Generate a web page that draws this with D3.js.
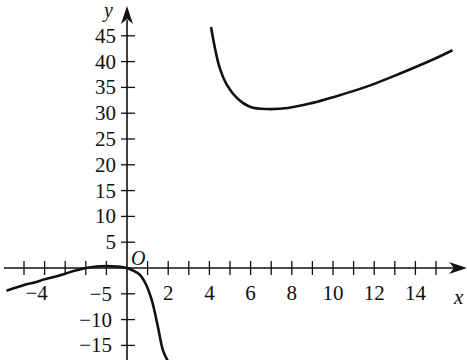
<!DOCTYPE html>
<html>
<head>
<meta charset="utf-8">
<script src="https://cdn.jsdelivr.net/npm/d3@7"></script>
<style>
  body { margin: 0; background: #fff; }
  text { font-family: "Liberation Serif", "Times New Roman", serif; fill: #111; }
</style>
</head>
<body>
<div id="chart"></div>
<script>
// valores
const xTicks = [-5, -4, -3, -2, -1, 1, 2, 3, 4, 5, 6, 7, 8, 9, 10, 11, 12, 13, 14, 15];
const xTickLabels = [-4, 2, 4, 6, 8, 10, 12, 14];
const yTicks = [-15, -10, -5, 5, 10, 15, 20, 25, 30, 35, 40, 45];

// rama izquierda de la curva
const leftX = [-5.85, -5, -4.5, -4, -3.5, -3, -2.5, -2, -1.5, -1, -0.5, 0, 0.3, 0.6, 0.9, 1.2, 1.5, 1.75, 1.98];
const leftY = [-4.4, -3.3, -2.8, -2.2, -1.7, -1.1, -0.5, 0, 0.3, 0.4, 0.3, 0, -0.5, -1.2, -3, -6.2, -11.4, -16, -18];

// rama derecha de la curva
const rightX = [4.08, 4.27, 4.5, 4.85, 5.35, 6, 6.8, 7.8, 9, 10, 11.6, 13.2, 14.8, 15.8];
const rightY = [46.7, 42.6, 38.8, 35.5, 32.9, 31.2, 30.8, 31.0, 32.0, 33.1, 35.1, 37.6, 40.3, 42.2];

const width = 467, height = 360;

const svg = d3.select("#chart").append("svg")
  .attr("width", width)
  .attr("height", height);

// escalas: origen en (127, 268)
const x = d3.scaleLinear().domain([-6, 16]).range([127 - 6 * 20.6, 127 + 16 * 20.6]);
const y = d3.scaleLinear().domain([-18, 48]).range([268 + 18 * 5.16, 268 - 48 * 5.16]);

const x0 = x(0), y0 = y(0);

// ejes
svg.append("line")
  .attr("x1", 4).attr("x2", 455)
  .attr("y1", y0).attr("y2", y0)
  .attr("stroke", "#111").attr("stroke-width", 1.6);
svg.append("line")
  .attr("x1", x0).attr("x2", x0)
  .attr("y1", height).attr("y2", 20)
  .attr("stroke", "#111").attr("stroke-width", 1.6);

// flechas
svg.append("path")
  .attr("d", `M467,${y0} L449,${y0 - 6} L454,${y0} L449,${y0 + 6} Z`)
  .attr("fill", "#111");
svg.append("path")
  .attr("d", `M${x0},6 L${x0 - 6},24 L${x0},19 L${x0 + 6},24 Z`)
  .attr("fill", "#111");

// marcas del eje x
svg.selectAll(".xt")
  .data(xTicks)
  .join("line")
  .attr("x1", d => x(d)).attr("x2", d => x(d))
  .attr("y1", y0 - 7).attr("y2", y0 + 7)
  .attr("stroke", "#111").attr("stroke-width", 1.3);

// marcas del eje y
svg.selectAll(".yt")
  .data(yTicks)
  .join("line")
  .attr("x1", x0 - 6).attr("x2", x0 + 8)
  .attr("y1", d => y(d)).attr("y2", d => y(d))
  .attr("stroke", "#111").attr("stroke-width", 1.3);

// etiquetas del eje x
svg.selectAll(".xl")
  .data(xTickLabels)
  .join("text")
  .attr("x", d => x(d) + (d < 0 ? -8 : 0))
  .attr("y", y0 + 32)
  .attr("text-anchor", "middle")
  .style("font-size", "21px")
  .text(d => d < 0 ? "\u2212" + Math.abs(d) : d);

// etiquetas del eje y
svg.selectAll(".yl")
  .data(yTicks)
  .join("text")
  .attr("x", d => d < 0 ? x0 - 15 : x0 - 11)
  .attr("y", d => y(d) + 7)
  .attr("text-anchor", "end")
  .style("font-size", "21px")
  .text(d => d < 0 ? "\u2212" + Math.abs(d) : d);

// nombres de los ejes y origen
svg.append("text").attr("x", 104).attr("y", 17)
  .style("font-size", "20px").style("font-style", "italic").text("y");
svg.append("text").attr("x", 454).attr("y", 304)
  .style("font-size", "21px").style("font-style", "italic").text("x");
svg.append("text").attr("x", 131).attr("y", 265)
  .style("font-size", "20px").style("font-style", "italic").text("O");

// curvas
const line = d3.line()
  .x(d => x(d[0]))
  .y(d => y(d[1]))
  .curve(d3.curveCatmullRom);

svg.append("path")
  .datum(d3.zip(leftX, leftY))
  .attr("d", line)
  .attr("fill", "none")
  .attr("stroke", "#111")
  .attr("stroke-width", 2.6);

svg.append("path")
  .datum(d3.zip(rightX, rightY))
  .attr("d", line)
  .attr("fill", "none")
  .attr("stroke", "#111")
  .attr("stroke-width", 2.6);
</script>
</body>
</html>
